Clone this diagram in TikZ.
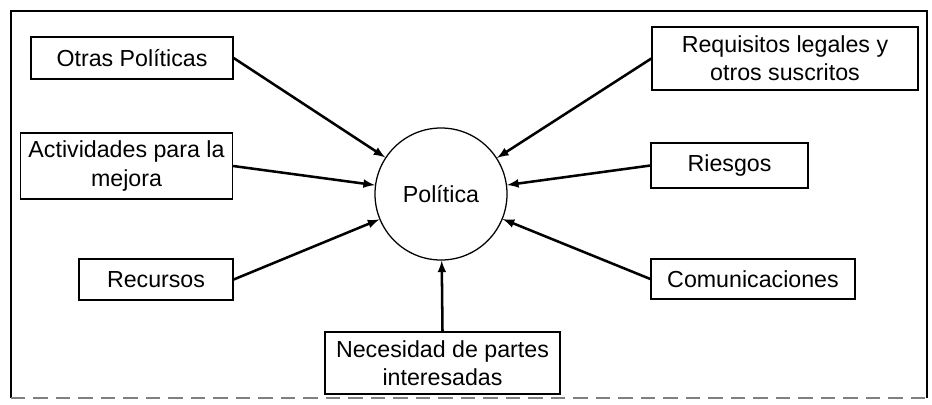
\documentclass[tikz,border=0pt]{standalone}
\usepackage{fontspec}
\setmainfont{Liberation Sans}
\usepackage{tikz}
\usetikzlibrary{arrows,positioning}

\tikzset{
	caja/.style={draw, line width=0.9pt, align=center, inner sep=2pt, font=\fontsize{16.5}{20}\selectfont},
	flecha/.style={->,>=latex, line width=1.8pt}
}

\begin{document}
\begin{tikzpicture}[x=0.025cm,y=-0.025cm]
		
		\useasboundingbox (0,0) rectangle (932,404);
		
		% marco
		\draw[line width=1.4pt] (11,398) -- (11,11) -- (927,11) -- (927,398);
		\draw[gray, dash pattern=on 10pt off 6pt, line width=1.2pt] (11,398) -- (927,398);
		
		% centro
		\node (pol) at (441,194)[draw, circle, line width=0.9pt, minimum size=3.3cm, font=\fontsize{16.5}{20}\selectfont] {Política};
		
		% entradas
		\node (otras) at (132,58)[caja, minimum width=5.05cm, minimum height=1.05cm] {Otras Políticas};
		\node (activ) at (126.5,166)[caja, minimum width=5.3cm, minimum height=1.65cm] {Actividades para la\\mejora};
		\node (recur) at (156,279.5)[caja, minimum width=3.85cm, minimum height=1.02cm] {Recursos};
		\node (requi) at (785,58.5)[caja, minimum width=6.65cm, minimum height=1.58cm] {Requisitos legales y\\otros suscritos};
		\node (riesg) at (729.5,165.5)[caja, minimum width=3.92cm, minimum height=1.12cm] {Riesgos};
		\node (comun) at (753,279)[caja, minimum width=5.1cm, minimum height=1.0cm] {Comunicaciones};
		\node (neces) at (442.5,363)[caja, minimum width=5.87cm, minimum height=1.55cm] {Necesidad de partes\\interesadas};
		
		% flechas
		\draw[flecha] (otras.east) -- (pol);
		\draw[flecha] (activ.east) -- (pol);
		\draw[flecha] (recur.east) -- (pol);
		\draw[flecha] (requi.west) -- (pol);
		\draw[flecha] (riesg.west) -- (pol);
		\draw[flecha] (comun.west) -- (pol);
		\draw[flecha] (neces.north) -- (pol);
		
	\end{tikzpicture}
\end{document}
